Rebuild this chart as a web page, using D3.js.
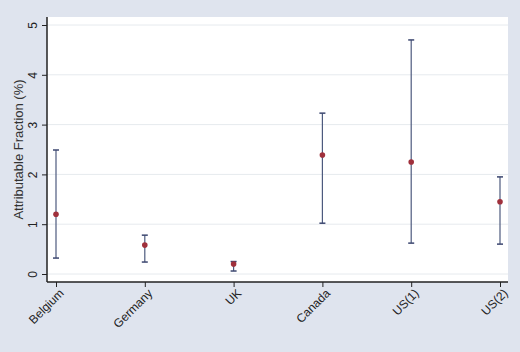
<!DOCTYPE html>
<meta charset="utf-8">
<style>
  body { margin: 0; background: #dfe4ee; }
  svg { display: block; font-family: "Liberation Sans", Arial, sans-serif; }
</style>
<body>
<script src="https://d3js.org/d3.v7.min.js"></script>
<script>
// estimates
var countries = ["Belgium", "Germany", "UK", "Canada", "US(1)", "US(2)"];
var estimates = [1.2, 0.58, 0.2, 2.39, 2.25, 1.45];
var lowerCI   = [0.32, 0.24, 0.06, 1.02, 0.62, 0.60];
var upperCI   = [2.49, 0.78, 0.25, 3.23, 4.70, 1.95];
var yTicks = [0, 1, 2, 3, 4, 5];

var W = 520, H = 352;
var plot = {left: 47, right: 508, top: 17, bottom: 282};

var svg = d3.select("body").append("svg")
  .attr("width", W).attr("height", H);

svg.append("rect").attr("width", W).attr("height", H).attr("fill", "#dfe4ee");
svg.append("rect")
  .attr("x", plot.left).attr("y", plot.top)
  .attr("width", plot.right - plot.left).attr("height", plot.bottom - plot.top)
  .attr("fill", "#fff");

var x = d3.scalePoint().domain(countries).range([56, 500]);
var y = d3.scaleLinear().domain([0, 5]).range([274, 25]);

// grid lines
svg.append("g").selectAll("line").data(yTicks).enter().append("line")
  .attr("x1", plot.left).attr("x2", plot.right)
  .attr("y1", function(d){ return y(d); }).attr("y2", function(d){ return y(d); })
  .attr("stroke", "#e6eaee").attr("stroke-width", 1);

// y axis
var yAxis = svg.append("g")
  .attr("transform", "translate(" + plot.left + ",0)")
  .call(d3.axisLeft(y).tickValues(yTicks).tickFormat(d3.format("d")).tickSize(5));
yAxis.select(".domain").attr("d", "M0," + plot.top + "V" + plot.bottom).attr("stroke", "#222").attr("stroke-width", 1.5);
yAxis.selectAll(".tick line").attr("stroke", "#222");
yAxis.selectAll(".tick text")
  .attr("font-size", 12).attr("fill", "#222")
  .attr("transform", "rotate(-90)")
  .attr("x", 0).attr("y", -10)
  .attr("dy", 0)
  .attr("text-anchor", "middle");

// x axis
var xAxis = svg.append("g")
  .attr("transform", "translate(0," + plot.bottom + ")")
  .call(d3.axisBottom(x).tickSize(5));
xAxis.select(".domain").attr("d", "M" + plot.left + ",0H" + plot.right).attr("stroke", "#222").attr("stroke-width", 1.5);
xAxis.selectAll(".tick line").attr("stroke", "#222");
xAxis.selectAll(".tick text")
  .attr("font-size", 12).attr("fill", "#222")
  .attr("text-anchor", "end")
  .attr("transform", "translate(5,9) rotate(-45)")
  .attr("x", 0).attr("y", 0).attr("dy", "0.35em");

// y axis title
svg.append("text")
  .attr("transform", "translate(23," + ((plot.top + plot.bottom) / 2) + ") rotate(-90)")
  .attr("text-anchor", "middle")
  .attr("font-size", 13).attr("fill", "#333")
  .text("Attributable Fraction (%)");

// error bars and points
var rows = countries.map(function(c, i){
  return {name: c, est: estimates[i], lo: lowerCI[i], hi: upperCI[i]};
});
var g = svg.append("g").selectAll("g").data(rows).enter().append("g");
g.append("line")
  .attr("x1", function(d){ return x(d.name); }).attr("x2", function(d){ return x(d.name); })
  .attr("y1", function(d){ return y(d.lo); }).attr("y2", function(d){ return y(d.hi); })
  .attr("stroke", "#4d5a7e").attr("stroke-width", 1.2);
["lo", "hi"].forEach(function(k){
  g.append("line")
    .attr("x1", function(d){ return x(d.name) - 3; }).attr("x2", function(d){ return x(d.name) + 3; })
    .attr("y1", function(d){ return y(d[k]); }).attr("y2", function(d){ return y(d[k]); })
    .attr("stroke", "#3c4770").attr("stroke-width", 1.5);
});
g.append("circle")
  .attr("cx", function(d){ return x(d.name); })
  .attr("cy", function(d){ return y(d.est); })
  .attr("r", 2.8).attr("fill", "#a0303c");
</script>
</body>
